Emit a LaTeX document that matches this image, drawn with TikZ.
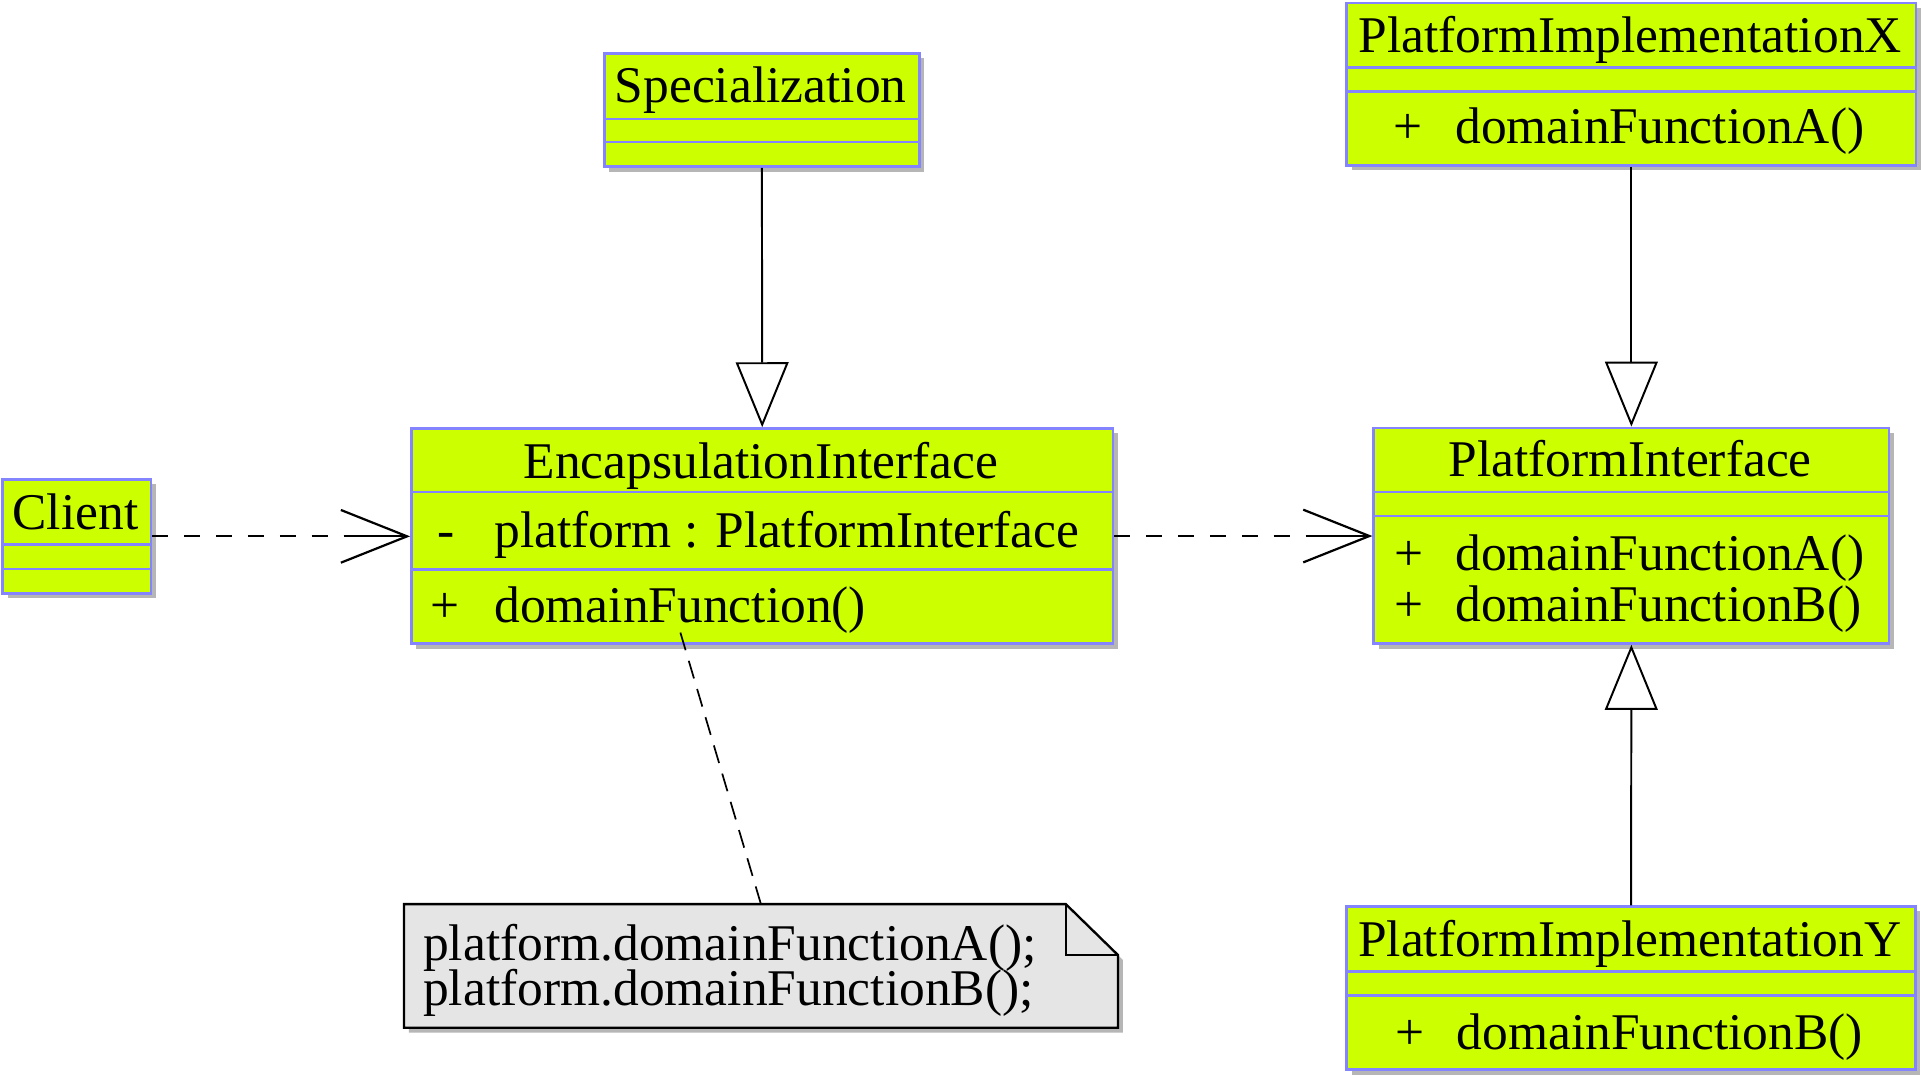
\documentclass[tikz,border=0pt]{standalone}
\usepackage{fontspec}
\setmainfont{Liberation Serif}
\usetikzlibrary{arrows.meta,shadows}
\definecolor{classfill}{RGB}{204,255,0}
\definecolor{classborder}{RGB}{132,132,255}
\definecolor{shadowgray}{RGB}{182,182,182}
\definecolor{notefill}{RGB}{229,229,229}
\newcommand{\notefont}{\fontsize{42pt}{37pt}\selectfont\lineskiplimit=-40pt\relax}
\begin{document}
\begin{tikzpicture}[x=1pt,y=-1pt,
  classbox/.style={rectangle, draw=classborder, fill=classfill, line width=2pt, inner sep=0pt,
    drop shadow={shadow xshift=4pt, shadow yshift=-4pt, fill=shadowgray, opacity=1}},
  sepline/.style={draw=classborder, line width=2pt},
  txt/.style={inner sep=0pt, font=\fontsize{42pt}{44pt}\selectfont},
  notetxt/.style={inner sep=0pt, align=left, font=\notefont},
  gen/.style={line width=1.6pt, -{Triangle[open, length=53pt, width=43pt]}},
  dep/.style={line width=1.8pt, dash pattern=on 13pt off 13pt},
  dephead/.style={line width=1.8pt, -{Straight Barb[length=54pt, width=43pt]}},
  noteline/.style={line width=1.4pt, dash pattern=on 15pt off 9pt},
]
\useasboundingbox (0,0) rectangle (1567,877);
\fill[white] (0,0) rectangle (1567,877);

% ---------- Specialization
\node[classbox, minimum width=257pt, minimum height=92.5pt, anchor=north west] (spec) at (492,42.5) {};
\draw[sepline] (492,97) -- (749,97);
\draw[sepline] (492,116) -- (749,116);
\node[txt, anchor=base] (specT) at (620.5,84) {Specialization};

% ---------- EncapsulationInterface
\node[classbox, minimum width=572.5pt, minimum height=175.5pt, anchor=north west] (enc) at (334.5,348.5) {};
\draw[sepline] (334.5,401.5) -- (907,401.5);
\draw[sepline] (334.5,464.5) -- (907,464.5);
\node[txt, anchor=base] (encT) at (620.75,390) {EncapsulationInterface};
\node[txt, anchor=base] (encAs) at (364,446.5) {-};
\node[txt, anchor=base west] (encA) at (403,446.5) {platform : PlatformInterface};
\node[txt, anchor=base] (encMs) at (363,508) {+};
\node[txt, anchor=base west] (encM) at (403,508) {domainFunction()};

% ---------- Client
\node[classbox, minimum width=121pt, minimum height=93pt, anchor=north west] (client) at (1.2,390) {};
\draw[sepline] (1.2,444) -- (122.2,444);
\draw[sepline] (1.2,464) -- (122.2,464);
\node[txt, anchor=base] (clientT) at (61.5,432) {Client};

% ---------- PlatformInterface
\node[classbox, minimum width=420.5pt, minimum height=176pt, anchor=north west] (plat) at (1119.5,348) {};
\draw[sepline] (1119.5,401.5) -- (1540,401.5);
\draw[sepline] (1119.5,421) -- (1540,421);
\node[txt, anchor=base] (platT) at (1329.75,389) {PlatformInterface};
\node[txt, anchor=base] (platMas) at (1149,465) {+};
\node[txt, anchor=base west] (platMa) at (1187,465) {domainFunctionA()};
\node[txt, anchor=base] (platMbs) at (1149,507) {+};
\node[txt, anchor=base west] (platMb) at (1187,507) {domainFunctionB()};

% ---------- PlatformImplementationX
\node[classbox, minimum width=464.5pt, minimum height=132.5pt, anchor=north west] (implX) at (1097.5,1.5) {};
\draw[sepline] (1097.5,55) -- (1562,55);
\draw[sepline] (1097.5,74.5) -- (1562,74.5);
\node[txt, anchor=base] (implXT) at (1329.75,43) {PlatformImplementationX};
\node[txt, anchor=base] (implXMs) at (1148.5,117) {+};
\node[txt, anchor=base west] (implXM) at (1187,117) {domainFunctionA()};

% ---------- PlatformImplementationY
\node[classbox, minimum width=464pt, minimum height=133pt, anchor=north west] (implY) at (1097.5,738.5) {};
\draw[sepline] (1097.5,792.5) -- (1561.5,792.5);
\draw[sepline] (1097.5,812) -- (1561.5,812);
\node[txt, anchor=base] (implYT) at (1329.5,780) {PlatformImplementationY};
\node[txt, anchor=base] (implYMs) at (1150,856) {+};
\node[txt, anchor=base west] (implYM) at (1188,856) {domainFunctionB()};

% ---------- Note
\node[inner sep=0pt, minimum width=582pt, minimum height=100.5pt, anchor=north west] (note) at (329.5,737.5) {};
\fill[shadowgray] ([shift={(4,4)}]note.north west) -- ([shift={(-38.5,4)}]note.north east)
  -- ([shift={(4,45.5)}]note.north east) -- ([shift={(4,4)}]note.south east)
  -- ([shift={(4,4)}]note.south west) -- cycle;
\draw[fill=notefill, line width=1.9pt] (note.north west) -- ([xshift=-42.5pt]note.north east)
  -- ([yshift=-41.5pt]note.north east) -- (note.south east) -- (note.south west) -- cycle;
\draw[line width=1.9pt] ([xshift=-42.5pt]note.north east) -- ([xshift=-42.5pt,yshift=-41.5pt]note.north east)
  -- ([yshift=-41.5pt]note.north east);
\node[notetxt, anchor=west] (noteT) at (345,791.5) {platform.domainFunctionA();\\platform.domainFunctionB();};

% ---------- Connectors
\draw[gen] (spec.south) -- (enc.north);
\draw[gen] (implX.south) -- (plat.north);
\draw[gen] (implY.north) -- (plat.south);

\coordinate (tipA) at (client.east -| enc.west);
\coordinate (tailA) at ([xshift=-54pt]tipA);
\draw[dep] (client.east) -- (tailA);
\draw[dephead] (tailA) -- (tipA);

\coordinate (tipB) at (enc.east -| plat.west);
\coordinate (tailB) at ([xshift=-54pt]tipB);
\draw[dep] (enc.east) -- (tailB);
\draw[dephead] (tailB) -- (tipB);

\coordinate (encNote) at (555,516);
\draw[noteline] (encNote) -- (note.north);
\end{tikzpicture}
\end{document}
